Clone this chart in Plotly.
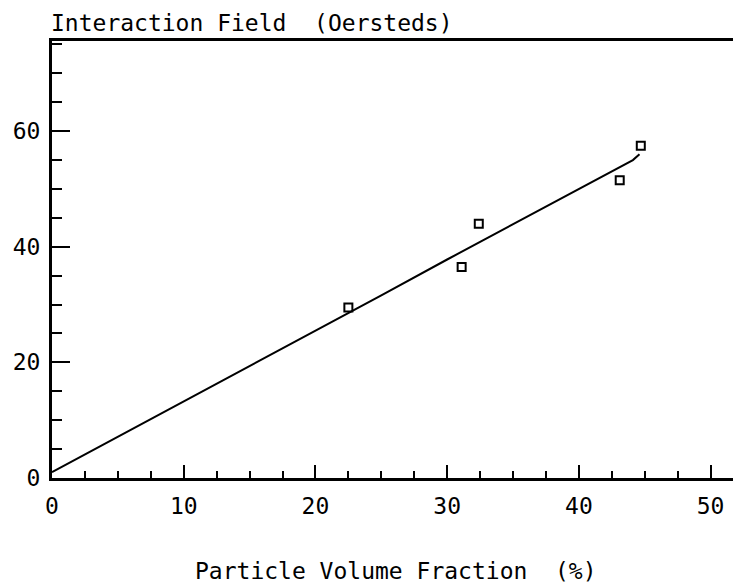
import plotly.graph_objects as go

# Measured interaction field vs. particle volume fraction
volume_fraction = [22.5, 31.1, 32.4, 43.1, 44.7]
interaction_field = [29.5, 36.5, 44.0, 51.5, 57.5]

# Fitted curve through the measurements
fit_fraction = [0, 5, 10, 15, 20, 25, 30, 35, 40, 43.5, 44.1, 44.6]
fit_field = [1.0, 7.1, 13.3, 19.4, 25.5, 31.6, 37.8, 43.9, 50.0, 54.3, 55.0, 56.0]

x_ticks = [0, 10, 20, 30, 40, 50]
y_ticks = [0, 20, 40, 60]

FONT = "DejaVu Sans Mono, Noto Sans Mono, monospace"

fig = go.Figure()

fig.add_trace(go.Scatter(
    x=fit_fraction, y=fit_field, mode="lines",
    line=dict(color="black", width=2),
    showlegend=False, hoverinfo="skip",
))

fig.add_trace(go.Scatter(
    x=volume_fraction, y=interaction_field, mode="markers",
    marker=dict(symbol="square-open", size=8, color="black",
                line=dict(color="black", width=2)),
    showlegend=False,
))

fig.update_layout(
    width=733, height=585,
    margin=dict(l=52, r=0, t=41, b=107),
    paper_bgcolor="white", plot_bgcolor="white",
    font=dict(family=FONT, size=23, color="black"),
    xaxis=dict(
        range=[0, 51.7], showgrid=False, zeroline=False,
        showline=True, linecolor="black", linewidth=3, mirror=True,
        tickmode="array", tickvals=x_ticks,
        ticks="inside", ticklen=13, tickwidth=2, tickcolor="black",
        minor=dict(dtick=2.5, tick0=0, ticks="inside", ticklen=7,
                   tickwidth=2, tickcolor="black", showgrid=False),
        tickfont=dict(family=FONT, size=23, color="black"),
        ticklabelstandoff=5,
    ),
    yaxis=dict(
        range=[0, 75.6], showgrid=False, zeroline=False,
        showline=True, linecolor="black", linewidth=3, mirror=False,
        tickmode="array", tickvals=y_ticks,
        ticks="inside", ticklen=18, tickwidth=2, tickcolor="black",
        minor=dict(dtick=5, tick0=0, ticks="inside", ticklen=10,
                   tickwidth=2, tickcolor="black", showgrid=False),
        tickfont=dict(family=FONT, size=23, color="black"),
        ticklabelstandoff=4,
    ),
    annotations=[
        dict(text="Interaction Field  (Oersteds)", xref="paper", yref="paper",
             x=-0.005, y=1.0, xanchor="left", yanchor="bottom", yshift=3,
             showarrow=False, font=dict(family=FONT, size=23, color="black")),
        dict(text="Particle Volume Fraction  (%)", xref="paper", yref="paper",
             x=0.505, y=0, xanchor="center", yanchor="top", yshift=-78,
             showarrow=False, font=dict(family=FONT, size=23, color="black")),
    ],
)

fig.write_html("out.html")
